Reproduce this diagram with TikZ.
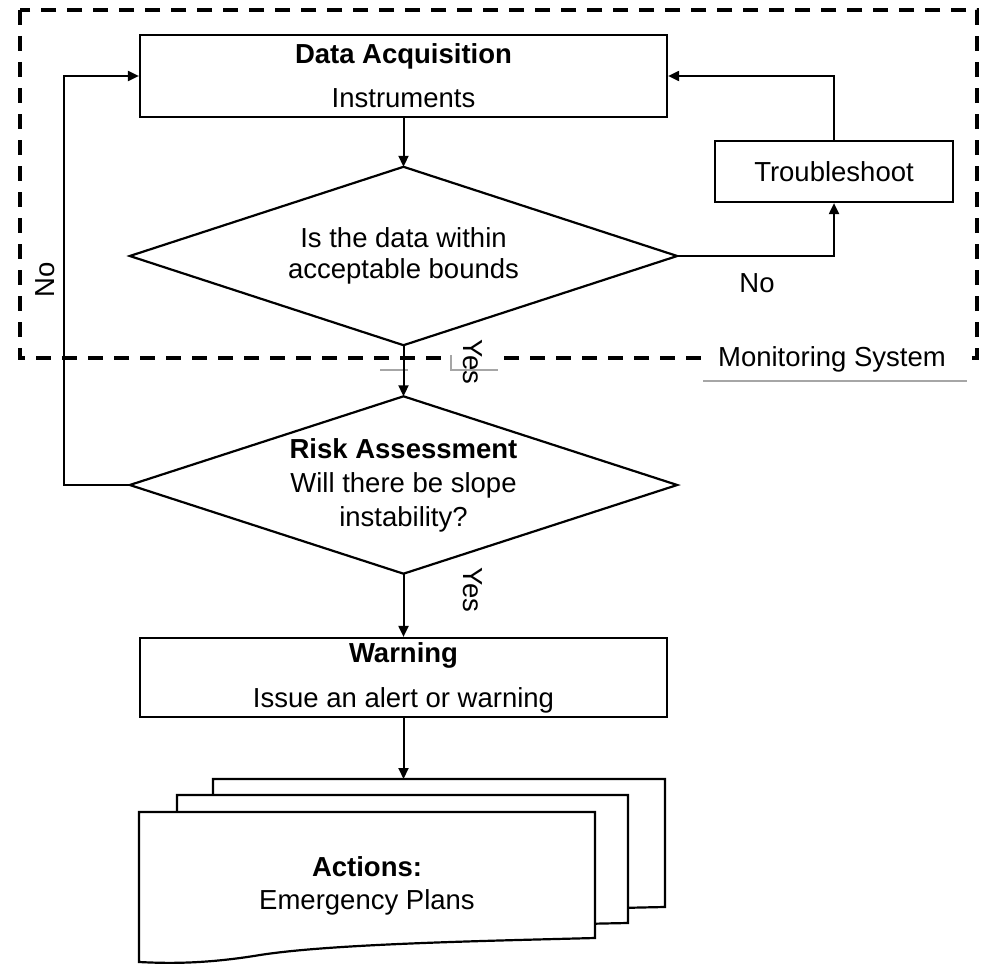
\documentclass[tikz,border=0pt]{standalone}
\usepackage{fontspec}
\setmainfont{Liberation Sans}
\usetikzlibrary{arrows.meta}
\begin{document}
\begin{tikzpicture}[x=1pt,y=-1pt,
  every node/.style={font=\fontsize{27.5}{33}\selectfont, inner sep=0pt},
  box/.style={draw, line width=2.2pt, minimum width=527pt, minimum height=82pt, align=center},
  dec/.style={minimum width=547pt, minimum height=178pt, align=center},
  decline/.style={line width=2.2pt, line join=miter},
  arr/.style={line width=2pt, -{Triangle[length=11pt,width=10pt]}},
  page/.style={draw, fill=white, line width=2.2pt},
  monitor/.style={line width=4.5pt, dash pattern=on 15pt off 11pt},
  faint/.style={draw=black!35, line width=1.2pt}]
\useasboundingbox (0,0) rectangle (982,966);
% monitoring system frame
\draw[monitor] (20,10) rectangle (977,358);
\fill[white] (452,346) rectangle (497,369);
\draw[faint] (451,355) -- (451,370) -- (498,370);
\draw[faint] (380,370) -- (408,370);
\fill[white] (703,343) rectangle (967,380);
\draw[faint] (703,381) -- (967,381);
\node (ms) at (832,359) {Monitoring System};
\node[rotate=-90] (yes1) at (473,362) {Yes};
% main nodes
\node[box] (da) at (403.5,76) {\textbf{Data Acquisition}\\[11pt]Instruments};
\node[dec] (d1) at (403.5,256) {Is the data within\\[-2pt]acceptable bounds};
\draw[decline] (d1.north) -- (d1.east) -- (d1.south) -- (d1.west) -- cycle;
\node[box, minimum width=238pt, minimum height=61pt] (ts) at (834,171.5) {Troubleshoot};
\node[dec, minimum height=177pt] (d2) at (403.5,485) {\textbf{Risk Assessment}\\[1pt]Will there be slope\\[1pt]instability?};
\draw[decline] (d2.north) -- (d2.east) -- (d2.south) -- (d2.west) -- cycle;
\node[box, minimum height=79pt] (wa) at (403.5,677.5) {\textbf{Warning}\\[12pt]Issue an alert or warning};
% document stack
\draw[page] (213,779) -- (665,779) -- (665,907) .. controls (560,909) and (420,914) .. (213,930) -- cycle;
\draw[page] (177,795) -- (628,795) -- (628,923) .. controls (520,925) and (380,930) .. (177,946) -- cycle;
\draw[page] (139,812) -- (595,812) -- (595,938) .. controls (480,941) and (330,944) .. (260,955) .. controls (200,965) and (160,963) .. (139,962) -- cycle;
\coordinate (doc) at (403.5,779);
\node[align=center] (act) at (367,886) {\textbf{Actions:}\\[0pt]Emergency Plans};
% connectors
\draw[arr] (da.south) -- (d1.north);
\draw[arr] (d1.south) -- (d2.north);
\draw[arr] (d1.east) -| (ts.south);
\draw[arr] (ts.north) |- (da.east);
\draw[arr] (d2.west) -- ++(-66,0) |- (da.west);
\draw[arr] (d2.south) -- (wa.north);
\draw[arr] (wa.south) -- (doc);
% labels
\node (no1) at (757,283) {No};
\node[rotate=90] (no2) at (45,280) {No};
\node[rotate=-90] (yes2) at (473,590) {Yes};
\end{tikzpicture}
\end{document}
